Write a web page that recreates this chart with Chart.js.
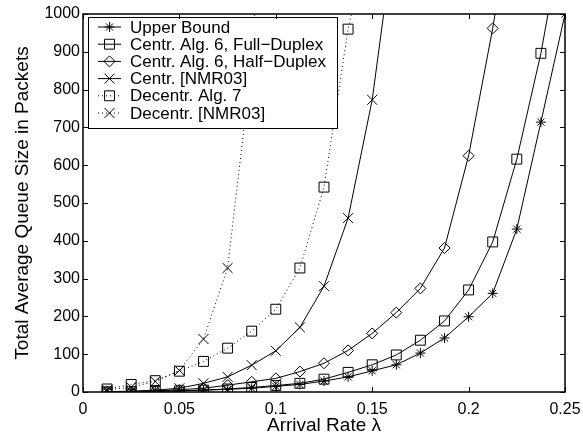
<!DOCTYPE html>
<html>
<head>
<meta charset="utf-8">
<script src="https://cdn.jsdelivr.net/npm/chart.js@4/dist/chart.umd.min.js"></script>
<style>
  body { margin: 0; background: #fff; }
</style>
</head>
<body>
<canvas id="myChart" width="583" height="437"></canvas>
<script>

var arrivalRates = [0.0125, 0.025, 0.0375, 0.05, 0.0625, 0.075, 0.0875, 0.1, 0.1125, 0.125,
    0.1375, 0.15, 0.1625, 0.175, 0.1875, 0.2, 0.2125, 0.225, 0.2375, 0.25];

var upperBound  = [0.5, 1, 2, 3, 5, 7, 10, 15, 20, 29, 40, 56, 72, 103, 143, 199, 261, 431, 714, 1000];
var fullDuplex  = [0.5, 1, 2, 3, 5, 8, 12, 17, 23, 34, 52, 72, 98, 137, 188, 270, 397, 616, 896, 1250];
var halfDuplex  = [0.5, 1.5, 3, 6, 10, 18, 27, 36, 54, 76, 110, 155, 210, 274, 381, 625, 962, 1350];
var centrNmr    = [1, 2, 5, 10, 23, 40, 71, 109, 171, 280, 460, 773, 1250];
var decentrAlg7 = [8, 20, 30, 55, 81, 116, 161, 219, 328, 542, 960, 1250];
var decentrNmr  = [5, 13, 28, 57, 140, 328, 870, 1900];

var seriesNames = ['Upper Bound', 'Centr. Alg. 6, Full\u2212Duplex', 'Centr. Alg. 6, Half\u2212Duplex',
    'Centr. [NMR03]', 'Decentr. Alg. 7', 'Decentr. [NMR03]'];

var xTicks = [0, 0.05, 0.1, 0.15, 0.2, 0.25];
var yTicks = [0, 100, 200, 300, 400, 500, 600, 700, 800, 900, 1000];

var fontName = '"Liberation Sans", Arial, Helvetica, sans-serif';

function toPoints(values) {
    return values.map(function (v, i) {
        return { x: arrivalRates[i], y: v };
    });
}

function series(label, values, marker, radius, dotted) {
    return {
        label: label,
        data: toPoints(values),
        borderColor: 'black',
        borderWidth: 1,
        borderDash: dotted ? [1, 3] : [],
        pointStyle: marker,
        pointRadius: radius,
        pointBorderColor: 'black',
        pointBackgroundColor: 'rgba(0,0,0,0)',
        pointBorderWidth: 1,
        tension: 0,
        fill: false
    };
}

// legend box drawn inside the plot, MATLAB style
var boxLegend = {
    id: 'boxLegend',
    afterDatasetsDraw: function (chart) {
        var ctx = chart.ctx;
        var area = chart.chartArea;
        var left = Math.round(area.left) + 5, top = Math.round(area.top) + 3;
        var w = 249, h = 111, rowH = 17.2;

        ctx.save();
        ctx.fillStyle = 'white';
        ctx.fillRect(left, top, w, h);
        ctx.strokeStyle = 'black';
        ctx.lineWidth = 1;
        ctx.strokeRect(left + 0.5, top + 0.5, w, h);

        chart.data.datasets.forEach(function (ds, i) {
            var y = top + 10 + i * rowH;
            ctx.strokeStyle = 'black';
            ctx.lineWidth = 1;
            ctx.setLineDash(ds.borderDash);
            ctx.beginPath();
            ctx.moveTo(left + 10, y);
            ctx.lineTo(left + 33, y);
            ctx.stroke();
            ctx.setLineDash([]);

            ctx.fillStyle = 'rgba(0,0,0,0)';
            Chart.helpers.drawPoint(ctx, {
                pointStyle: ds.pointStyle,
                radius: ds.pointRadius,
                rotation: 0,
                borderWidth: 1
            }, left + 21.5, y);

            ctx.fillStyle = 'black';
            ctx.font = '17px ' + fontName;
            ctx.textBaseline = 'middle';
            ctx.textAlign = 'left';
            ctx.fillText(ds.label, left + 42, y + 1);
        });
        ctx.restore();
    }
};

// box round the plot with inward ticks on all sides
var boxFrame = {
    id: 'boxFrame',
    afterDraw: function (chart) {
        var ctx = chart.ctx;
        var a = chart.chartArea;
        var xs = chart.scales.x, ys = chart.scales.y;
        var len = 5;
        ctx.save();
        ctx.strokeStyle = 'black';
        ctx.lineWidth = 1;
        ctx.beginPath();
        xTicks.forEach(function (v) {
            var px = Math.round(xs.getPixelForValue(v)) + 0.5;
            ctx.moveTo(px, a.bottom); ctx.lineTo(px, a.bottom - len);
            ctx.moveTo(px, a.top); ctx.lineTo(px, a.top + len);
        });
        yTicks.forEach(function (v) {
            var py = Math.round(ys.getPixelForValue(v)) + 0.5;
            ctx.moveTo(a.left, py); ctx.lineTo(a.left + len, py);
            ctx.moveTo(a.right, py); ctx.lineTo(a.right - len, py);
        });
        ctx.stroke();
        ctx.lineWidth = 1.5;
        ctx.strokeRect(a.left, a.top, a.right - a.left, a.bottom - a.top);
        ctx.restore();
    }
};

function viewChart() {

    var ctx = document.getElementById('myChart').getContext('2d');

    Chart.defaults.font.family = fontName;
    Chart.defaults.color = 'black';

    var myChart = new Chart(ctx, {
        type: 'line',
        data: {
            datasets: [
                series(seriesNames[0], upperBound, 'star', 5, false),
                series(seriesNames[1], fullDuplex, 'rect', 7, false),
                series(seriesNames[2], halfDuplex, 'rectRot', 5.5, false),
                series(seriesNames[3], centrNmr, 'crossRot', 7, false),
                series(seriesNames[4], decentrAlg7, 'rect', 7, true),
                series(seriesNames[5], decentrNmr, 'crossRot', 7, true)
            ]
        },
        options: {
            responsive: false,
            animation: false,
            layout: { padding: { left: 0, top: 14, right: 18, bottom: 0 } },
            plugins: {
                legend: { display: false },
                tooltip: { enabled: false }
            },
            scales: {
                x: {
                    type: 'linear',
                    min: 0,
                    max: 0.25,
                    grid: { display: false },
                    border: { display: false },
                    afterBuildTicks: function (scale) {
                        scale.ticks = xTicks.map(function (v) { return { value: v }; });
                    },
                    afterFit: function (scale) { scale.height = 45; },
                    ticks: {
                        padding: 0,
                        maxRotation: 0,
                        font: { size: 16 },
                        callback: function (v) { return String(+v.toFixed(2)); }
                    },
                    title: {
                        display: true,
                        text: 'Arrival Rate \u03bb',
                        font: { size: 19 },
                        padding: { top: 0, bottom: 0 }
                    }
                },
                y: {
                    min: 0,
                    max: 1000,
                    grid: { display: false },
                    border: { display: false },
                    afterBuildTicks: function (scale) {
                        scale.ticks = yTicks.map(function (v) { return { value: v }; });
                    },
                    afterFit: function (scale) { scale.width = 83; },
                    ticks: {
                        padding: -5,
                        font: { size: 16 },
                        callback: function (v) { return String(v); }
                    },
                    title: {
                        display: true,
                        text: 'Total Average Queue Size in Packets',
                        font: { size: 19 },
                        padding: { top: 11, bottom: 0 }
                    }
                }
            }
        },
        plugins: [boxLegend, boxFrame]
    });
}
viewChart();
</script>
</body>
</html>
